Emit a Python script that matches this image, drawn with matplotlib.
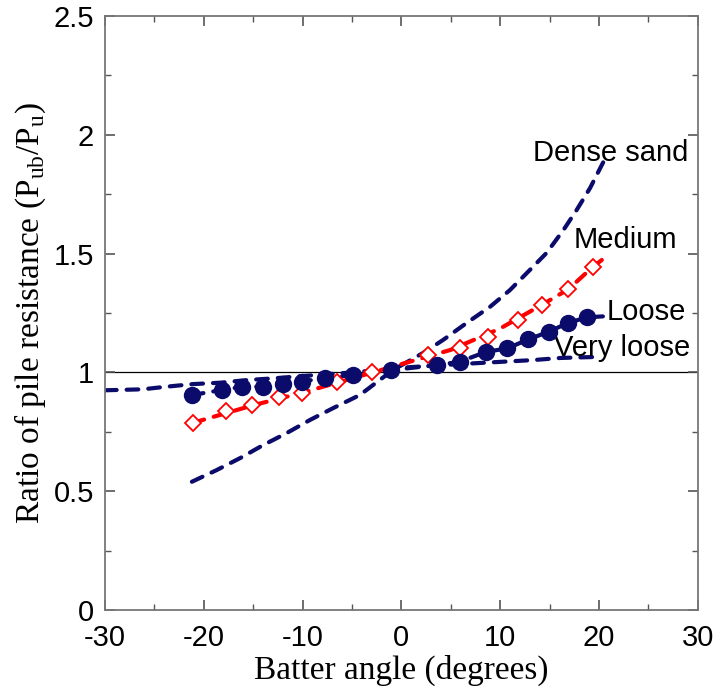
import numpy as np
import matplotlib
matplotlib.use("Agg")
import matplotlib.pyplot as plt
from matplotlib.ticker import MultipleLocator

plt.rcParams['axes.unicode_minus'] = False

# batter angle vs ratio Pub/Pu for four sand densities
dense_x = [-21.2, -18.7, -16.3, -14.0, -11.6, -9.25, -6.9, -4.2, -2.2, -0.85,
           2.2, 4.2, 6.6, 9.0, 11.0, 13.0, 14.7, 16.4, 17.75, 19.1, 20.5]
dense_y = [0.540, 0.589, 0.640, 0.694, 0.745, 0.800, 0.850, 0.905, 0.968, 1.010,
           1.082, 1.136, 1.208, 1.277, 1.347, 1.431, 1.503, 1.599, 1.684, 1.776, 1.89]

medium_x = [-21.1, -17.7, -15.1, -12.4, -10.1, -6.55, -3.0, 2.7, 5.9, 8.8, 11.8, 14.2, 16.9, 19.4]
medium_y = [0.788, 0.838, 0.863, 0.895, 0.914, 0.961, 1.000, 1.073, 1.101, 1.150, 1.220, 1.284, 1.350, 1.445]
medium_line_x = [-21.1, -15.0, -10.0, -5.0, 0.0, 5.0, 10.0, 14.2, 16.9, 19.4, 20.5]
medium_line_y = [0.788, 0.862, 0.915, 0.975, 1.035, 1.095, 1.185, 1.284, 1.350, 1.445, 1.48]

loose_x = [-21.2, -18.2, -16.1, -14.0, -12.0, -10.1, -7.7, -4.9, -1.0,
           3.6, 5.9, 8.6, 10.7, 12.85, 14.9, 16.9, 18.8]
loose_y = [0.905, 0.926, 0.940, 0.940, 0.951, 0.961, 0.978, 0.989, 1.010,
           1.031, 1.045, 1.087, 1.101, 1.139, 1.171, 1.209, 1.232]
loose_line_x = loose_x + [20.4]
loose_line_y = loose_y + [1.236]

vloose_x = [-30.0, -26.2, -23.8, -21.1, -18.3, -15.6, -13.0, -10.0, -5.0, 0.0,
            5.0, 8.0, 13.3, 16.1, 19.5]
vloose_y = [0.925, 0.929, 0.940, 0.951, 0.957, 0.968, 0.975, 0.985, 1.000, 1.020,
            1.033, 1.040, 1.052, 1.061, 1.065]

navy = '#0b0b6b'
red = '#ff0000'

fig = plt.figure(figsize=(7.19, 6.98), dpi=100)
ax = fig.add_axes([0.146, 0.126, 0.8244, 0.851])

ax.axhline(1.0, color='black', lw=0.9, zorder=1)

dash = (0, (2.8, 2.4))
ax.plot(dense_x, dense_y, color=navy, lw=3, linestyle=dash, dash_capstyle='round')
ax.plot(vloose_x, vloose_y, color=navy, lw=3, linestyle=dash, dash_capstyle='round')
ax.plot(loose_line_x, loose_line_y, color=navy, lw=3, linestyle=dash, dash_capstyle='round')
ax.plot(loose_x, loose_y, 'o', color=navy, ms=11.5, zorder=4)
ax.plot(medium_line_x, medium_line_y, color=red, lw=3, linestyle=dash, dash_capstyle='round', zorder=3)
ax.plot(medium_x, medium_y, 'D', mfc='white', mec=red, mew=1.3, ms=8, zorder=3)

lab_font = dict(family='Liberation Sans', fontsize=21)
ax.text(13.3, 1.923, 'Dense sand', va='center', ha='left', **lab_font)
ax.text(17.4, 1.557, 'Medium', va='center', ha='left', **lab_font)
ax.text(20.8, 1.254, 'Loose', va='center', ha='left', **lab_font)
ax.text(15.5, 1.103, 'Very loose', va='center', ha='left', **lab_font)

ax.set_xlim(-30, 30)
ax.set_ylim(0, 2.5)
ax.set_xticks([-30, -20, -10, 0, 10, 20, 30])
ax.set_yticks([0, 0.5, 1, 1.5, 2, 2.5])
ax.set_yticklabels(['0', '0.5', '1', '1.5', '2', '2.5'])
ax.xaxis.set_minor_locator(MultipleLocator(5))
ax.yaxis.set_minor_locator(MultipleLocator(0.25))
ax.tick_params(which='both', direction='in', top=True, right=True, color='#555555')
ax.tick_params(which='major', length=7, width=1.2)
ax.tick_params(axis='y', which='major', pad=8)
ax.tick_params(axis='x', which='major', pad=10)
ax.tick_params(which='minor', length=4, width=1.0)
for lbl in ax.get_xticklabels() + ax.get_yticklabels():
    lbl.set_family('Liberation Sans')
    lbl.set_fontsize(21)
for s in ax.spines.values():
    s.set_color('#777777')
    s.set_linewidth(1.3)

ax.set_xlabel('Batter angle (degrees)', family='Liberation Serif', fontsize=24, labelpad=2)
ax.set_ylabel(r'Ratio of pile resistance (P$_{\mathregular{ub}}$/P$_{\mathregular{u}}$)',
              family='Liberation Serif', fontsize=24, labelpad=4)

fig.savefig('out.png', dpi=100)
